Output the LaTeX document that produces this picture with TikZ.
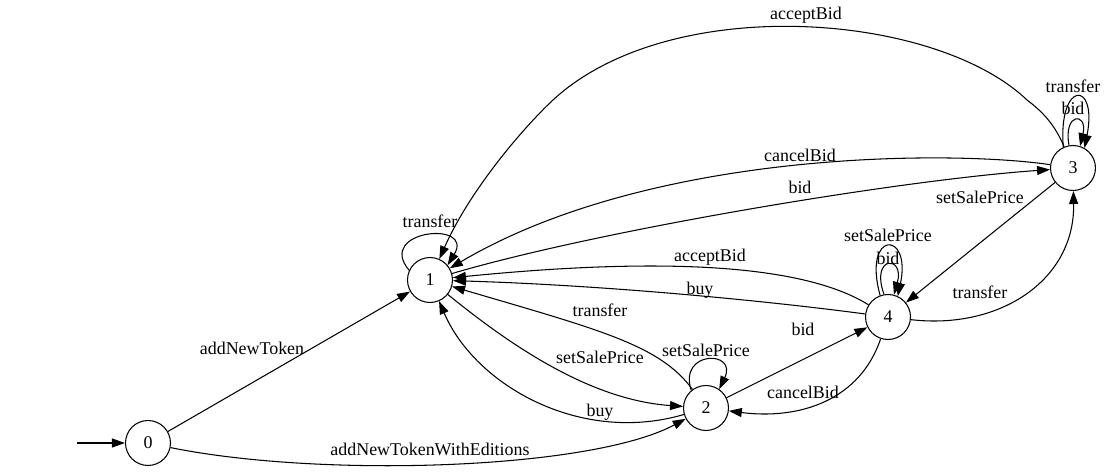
\documentclass[tikz,border=0pt]{standalone}
\usepackage{fontspec}
\setmainfont{Liberation Serif}
\usetikzlibrary{arrows.meta}
\tikzset{
  st/.style={circle, draw, line width=0.6pt, minimum size=0.9cm, inner sep=0pt,
    font=\fontsize{10.2}{12}\selectfont},
  elabel/.style={font=\fontsize{10.2}{12}\selectfont, inner sep=1pt},
  trans/.style={line width=0.6pt, -{Triangle[length=0.26cm,width=0.18cm]}},
}

\begin{document}
\begin{tikzpicture}[x=0.02cm, y=-0.02cm]
\useasboundingbox (0,0) rectangle (1107,473);

\node[st] (s0) at (148,443) {0};
\node[st] (s1) at (430,280) {1};
\node[st] (s2) at (706,408) {2};
\node[st] (s3) at (1073,168) {3};
\node[st] (s4) at (888,317) {4};
\coordinate (init) at (77,443);

% ===== from 0 =====
\draw[trans] (init) -- (s0);
\draw[trans] (s0) -- (s1) node[elabel] at (252,348) {addNewToken};
\draw[trans] (s0) .. controls (320,478) and (590,470) .. (s2)
  node[elabel] at (430,449) {addNewTokenWithEditions};

% ===== state 1 <-> 2 =====
\draw[trans] (s1.155) .. controls (375,230) and (475,220) .. (s1.40)
  node[elabel] at (430,221) {transfer};
\draw[trans] (s1) .. controls (510,345) and (590,400) .. (s2)
  node[elabel] at (600,357) {setSalePrice};
\draw[trans] (s2) .. controls (580,445) and (475,385) .. (s1)
  node[elabel] at (600,412) {buy};
\draw[trans] (s2) .. controls (660,345) and (600,330) .. (s1)
  node[elabel] at (600,310) {transfer};
\draw[trans] (s2.130) .. controls (678,350) and (738,350) .. (s2.55)
  node[elabel] at (706,350) {setSalePrice};

% ===== state 2 <-> 4 =====
\draw[trans] (s2) -- (s4) node[elabel] at (803,329) {bid};
\draw[trans] (s4) .. controls (860,400) and (800,420) .. (s2)
  node[elabel] at (803,392) {cancelBid};

% ===== state 4 -> 1 =====
\draw[trans] (s4) .. controls (800,262) and (650,258) .. (s1)
  node[elabel] at (710,257) {acceptBid};
\draw[trans] (s4) .. controls (760,300) and (600,285) .. (s1)
  node[elabel] at (700,290) {buy};

% ===== state 1 <-> 3 =====
\draw[trans] (s1) .. controls (600,230) and (900,180) .. (s3)
  node[elabel] at (800,187) {bid};
\draw[trans] (s3) .. controls (950,150) and (650,150) .. (s1)
  node[elabel] at (800,155) {cancelBid};
\draw[trans] (s3) .. controls (1055,125) and (1043,112) .. (1027,100)
  .. controls (935,12) and (670,-8) .. (553,100)
  .. controls (523,128) and (470,190) .. (s1)
  node[elabel] at (806,15) {acceptBid};

% ===== self loops on 3 and 4 =====
\draw[trans] (s3.115) .. controls (1058,80) and (1098,80) .. (s3.60)
  node[elabel] at (1073,86) {transfer};
\draw[trans] (s3.100) .. controls (1063,112) and (1088,112) .. (s3.72)
  node[elabel] at (1073,108) {bid};
\draw[trans] (s4.110) .. controls (862,230) and (912,230) .. (s4.65)
  node[elabel] at (888,235) {setSalePrice};
\draw[trans] (s4.100) .. controls (870,255) and (905,255) .. (s4.75)
  node[elabel] at (888,258) {bid};

% ===== state 3 <-> 4 =====
\draw[trans] (s3) -- (s4) node[elabel] at (980,197) {setSalePrice};
\draw[trans] (s4) .. controls (1000,330) and (1075,280) .. (s3)
  node[elabel] at (980,292) {transfer};

\end{tikzpicture}
\end{document}
